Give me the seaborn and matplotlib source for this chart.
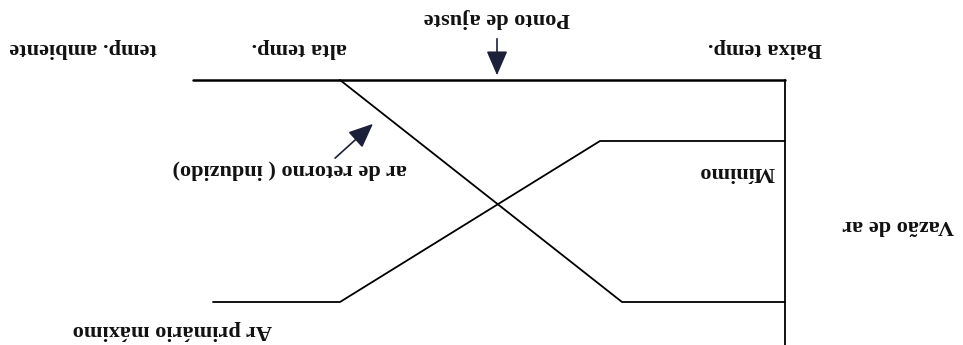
import numpy as np
import pandas as pd
import matplotlib
matplotlib.use("Agg")
import matplotlib.pyplot as plt
import seaborn as sns

# original chart coordinates (temperature -> x, air flow -> y); the page is shown rotated 180 deg
primX = [0, 185, 445, 572]
primY = [61, 61, 222, 222]
retX = [0, 163, 445]
retY = [222, 222, 0]
axisLen = 592

labels = {
    "temp. ambiente": (702, -32),
    "alta temp.": (486, -32),
    "Ponto de ajuste": (288, -62),
    "Baixa temp.": (20, -32),
    "ar de retorno ( induzido)": (495, 90),
    "Ar primário máximo": (613, 250),
    "Mínimo": (48, 92),
    "Vazão de ar": (-113, 145),
}

df = pd.concat([
    pd.DataFrame({"temp": primX, "vazao": primY, "serie": "primario"}),
    pd.DataFrame({"temp": retX, "vazao": retY, "serie": "retorno"}),
])

sns.set_style("white")
plt.rcParams['font.family'] = ['Liberation Serif', 'DejaVu Serif']

fig = plt.figure(figsize=(9.63, 3.45), dpi=100)
ax = fig.add_axes([0, 0, 1, 1])
sns.lineplot(data=df, x="temp", y="vazao", hue="serie", units="serie", estimator=None,
             sort=False, palette=["black", "black"], lw=1.3, legend=False, ax=ax)

# axes of the sketch
ax.plot([0, axisLen], [0, 0], color="black", lw=1.8)
ax.plot([0, 0], [0, 300], color="black", lw=1.3)

for txt, (x, y) in labels.items():
    ax.text(x, y, txt, rotation=180, ha="center", va="center",
            fontsize=16, fontweight="bold", color="#111111")

arrowStyle = dict(arrowstyle="-|>,head_width=0.65,head_length=1.5", color="#1c2038", lw=1.2)
ax.annotate("", xy=(288, -2), xytext=(288, -44), arrowprops=arrowStyle)
ax.annotate("", xy=(410, 42), xytext=(452, 80), arrowprops=arrowStyle)

ax.set_xlim(785, -178)
ax.set_ylim(265, -80)
ax.axis("off")
fig.savefig("out.png", dpi=100)
